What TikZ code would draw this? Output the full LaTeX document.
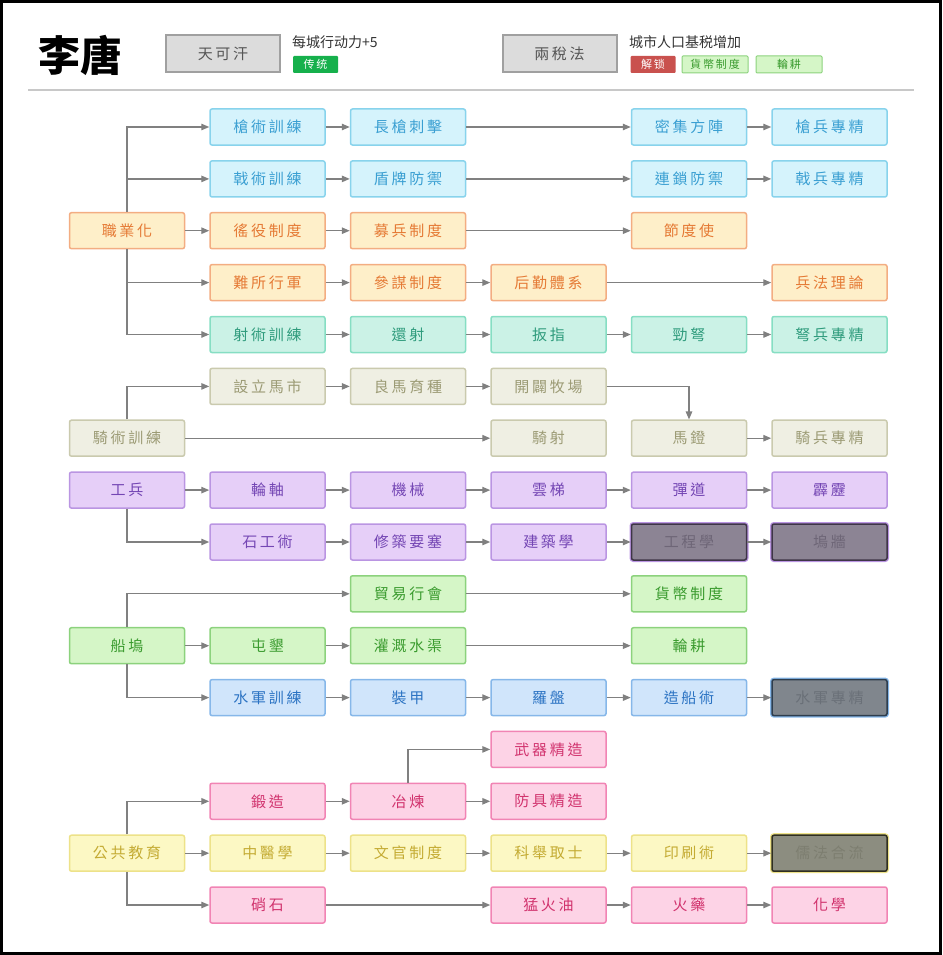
\documentclass[tikz,border=0pt]{standalone}
\usepackage{fontspec}
\newfontfamily\cjk[LetterSpace=18]{Noto Sans CJK TC}
\newfontfamily\cjkplain{Noto Sans CJK TC}
\usetikzlibrary{arrows.meta}
\usetikzlibrary{positioning}

\definecolor{linkgray}{HTML}{808080}
\definecolor{sepgray}{HTML}{C8C8C8}
\definecolor{headfill}{HTML}{DCDCDC}
\definecolor{headline}{HTML}{A0A0A0}
\definecolor{headtext}{HTML}{555555}
\definecolor{notetext}{HTML}{333333}
\definecolor{tradgreen}{HTML}{16B04C}
\definecolor{unlockred}{HTML}{C9514E}
\definecolor{lancefill}{HTML}{D5F3FC}
\definecolor{lanceline}{HTML}{88D3EC}
\definecolor{lancetext}{HTML}{3A9FD2}
\definecolor{orderfill}{HTML}{FEEFC9}
\definecolor{orderline}{HTML}{F3AD82}
\definecolor{ordertext}{HTML}{E57A35}
\definecolor{bowfill}{HTML}{CBF2E6}
\definecolor{bowline}{HTML}{86DEC3}
\definecolor{bowtext}{HTML}{2E9B7C}
\definecolor{horsefill}{HTML}{EFEFE3}
\definecolor{horseline}{HTML}{CACAAE}
\definecolor{horsetext}{HTML}{9C9B75}
\definecolor{siegefill}{HTML}{E6CFF8}
\definecolor{siegeline}{HTML}{BA95E2}
\definecolor{siegetext}{HTML}{7446B4}
\definecolor{siegelockfill}{HTML}{8C8494}
\definecolor{siegelockline}{HTML}{3E3547}
\definecolor{siegelocktext}{HTML}{6E6677}
\definecolor{farmfill}{HTML}{D5F6C7}
\definecolor{farmline}{HTML}{8CD27D}
\definecolor{farmtext}{HTML}{3A9B2E}
\definecolor{navyfill}{HTML}{D0E5FB}
\definecolor{navyline}{HTML}{86B7E9}
\definecolor{navytext}{HTML}{2B73C3}
\definecolor{navylockfill}{HTML}{80868D}
\definecolor{navylockline}{HTML}{2E3D4D}
\definecolor{navylocktext}{HTML}{6A7078}
\definecolor{forgefill}{HTML}{FDD3E6}
\definecolor{forgeline}{HTML}{F184B4}
\definecolor{forgetext}{HTML}{D1326D}
\definecolor{letterfill}{HTML}{FCF8C4}
\definecolor{letterline}{HTML}{EDE289}
\definecolor{lettertext}{HTML}{C4AB33}
\definecolor{letterlockfill}{HTML}{8C8D80}
\definecolor{letterlockline}{HTML}{2F2F22}
\definecolor{letterlocktext}{HTML}{7D7E70}

\tikzset{
  box/.style={rectangle, rounded corners=2pt, minimum width=115pt, minimum height=36pt,
    inner sep=0pt, line width=1.5pt, font=\cjk\fontsize{15}{17}\selectfont},
  lancebox/.style={box, fill=lancefill, draw=lanceline, text=lancetext},
  orderbox/.style={box, fill=orderfill, draw=orderline, text=ordertext},
  bowbox/.style={box, fill=bowfill, draw=bowline, text=bowtext},
  horsebox/.style={box, fill=horsefill, draw=horseline, text=horsetext},
  siegebox/.style={box, fill=siegefill, draw=siegeline, text=siegetext},
  siegelock/.style={box, fill=siegelockfill, draw=siegelockline, text=siegelocktext,
    preaction={draw=siegeline, line width=4pt}},
  farmbox/.style={box, fill=farmfill, draw=farmline, text=farmtext},
  navybox/.style={box, fill=navyfill, draw=navyline, text=navytext},
  navylock/.style={box, fill=navylockfill, draw=navylockline, text=navylocktext,
    preaction={draw=navyline, line width=4pt}},
  forgebox/.style={box, fill=forgefill, draw=forgeline, text=forgetext},
  letterbox/.style={box, fill=letterfill, draw=letterline, text=lettertext},
  letterlock/.style={box, fill=letterlockfill, draw=letterlockline, text=letterlocktext,
    preaction={draw=letterline, line width=4pt}},
  headbox/.style={rectangle, minimum width=114pt, minimum height=37pt, inner sep=0pt,
    fill=headfill, draw=headline, line width=2pt, text=headtext,
    font=\cjk\fontsize{15}{17}\selectfont},
  badge/.style={rectangle, rounded corners=1pt, minimum width=45pt, minimum height=17pt,
    inner sep=0pt, font=\cjk\fontsize{11}{12}\selectfont},
  note/.style={anchor=west, inner sep=0pt, text=notetext, font=\cjkplain\fontsize{14}{16}\selectfont},
  link/.style={draw=linkgray, line width=1.3pt, ->}
}

\begin{document}
\begin{tikzpicture}[x=1pt, y=-1pt, >={Triangle[length=8pt,width=6.5pt]},
    every edge/.style={link}, node distance=24pt]
        \useasboundingbox (0,0) rectangle (942,955);
        \draw[line width=3pt] (1.5,1.5) rectangle (940.5,953.5);

        % header
        \node (title) at (80,55) {\cjkplain\bfseries\fontsize{42}{46}\selectfont 李唐};
        \node[headbox] (khan) at (223,53.5) {天可汗};
        \node[note] (khannote) at (292,42) {每城行动力+5};
        \node[badge, fill=tradgreen, text=white] (trad) at (315.5,64.5) {传统};
        \node[headbox] (tax) at (559.5,53.5) {兩稅法};
        \node[note] (taxnote) at (629,42) {城市人口基税增加};
        \node[badge, fill=unlockred, text=white] (unlock) at (653,64.5) {解锁};
        \node[badge, minimum width=66pt, fill=farmfill, draw=farmline, line width=1pt, text=farmtext] (coin) at (715,64.5) {貨幣制度};
        \node[badge, minimum width=66pt, fill=farmfill, draw=farmline, line width=1pt, text=farmtext] (rot) at (789,64.5) {輪耕};
        \draw[sepgray, line width=1.5pt] (28,90) -- (914,90);

        % 職業化
        \node[lancebox] (a1) at (267.5,127)         {槍術訓練};
        \node[lancebox] (a2) [right = of a1]         {長槍刺擊};
        \node[lancebox] (a4) [right = 164.5pt of a2] {密集方陣};
        \node[lancebox] (a5) [right = of a4]         {槍兵專精};

        \node[lancebox] (b1) at (267.5,178.9)       {戟術訓練};
        \node[lancebox] (b2) [right = of b1]         {盾牌防禦};
        \node[lancebox] (b4) [right = 164.5pt of b2] {連鎖防禦};
        \node[lancebox] (b5) [right = of b4]         {戟兵專精};

        \node[orderbox] (c0) at (127,230.7)         {職業化};
        \node[orderbox] (c1) [right = of c0]         {徭役制度};
        \node[orderbox] (c2) [right = of c1]         {募兵制度};
        \node[orderbox] (c4) [right = 164.5pt of c2] {節度使};

        \node[orderbox] (d1) at (267.5,282.6)       {難所行軍};
        \node[orderbox] (d2) [right = of d1]         {參謀制度};
        \node[orderbox] (d3) [right = of d2]         {后勤體系};
        \node[orderbox] (d5) [right = 164.5pt of d3] {兵法理論};

        \node[bowbox] (e1) at (267.5,334.5)         {射術訓練};
        \node[bowbox] (e2) [right = of e1]           {還射};
        \node[bowbox] (e3) [right = of e2]           {扳指};
        \node[bowbox] (e4) [right = of e3]           {勁弩};
        \node[bowbox] (e5) [right = of e4]           {弩兵專精};

        % 騎術訓練
        \node[horsebox] (f1) at (267.5,386.4)       {設立馬市};
        \node[horsebox] (f2) [right = of f1]         {良馬育種};
        \node[horsebox] (f3) [right = of f2]         {開闢牧場};

        \node[horsebox] (g0) at (127,438.2)         {騎術訓練};
        \node[horsebox] (g3) [right = 305pt of g0]   {騎射};
        \node[horsebox] (g4) [right = of g3]         {馬鐙};
        \node[horsebox] (g5) [right = of g4]         {騎兵專精};

        % 工兵
        \node[siegebox] (h0) at (127,490.1)         {工兵};
        \node[siegebox] (h1) [right = of h0]         {輪軸};
        \node[siegebox] (h2) [right = of h1]         {機械};
        \node[siegebox] (h3) [right = of h2]         {雲梯};
        \node[siegebox] (h4) [right = of h3]         {彈道};
        \node[siegebox] (h5) [right = of h4]         {霹靂};

        \node[siegebox] (i1) at (267.5,542)         {石工術};
        \node[siegebox] (i2) [right = of i1]         {修築要塞};
        \node[siegebox] (i3) [right = of i2]         {建築學};
        \node[siegelock] (i4) [right = of i3]        {工程學};
        \node[siegelock] (i5) [right = of i4]        {塢牆};

        % 船塢
        \node[farmbox] (j2) at (408,593.8)          {貿易行會};
        \node[farmbox] (j4) [right = 164.5pt of j2]  {貨幣制度};

        \node[farmbox] (k0) at (127,645.7)          {船塢};
        \node[farmbox] (k1) [right = of k0]          {屯墾};
        \node[farmbox] (k2) [right = of k1]          {灌溉水渠};
        \node[farmbox] (k4) [right = 164.5pt of k2]  {輪耕};

        \node[navybox] (l1) at (267.5,697.6)        {水軍訓練};
        \node[navybox] (l2) [right = of l1]          {裝甲};
        \node[navybox] (l3) [right = of l2]          {羅盤};
        \node[navybox] (l4) [right = of l3]          {造船術};
        \node[navylock] (l5) [right = of l4]         {水軍專精};

        % 公共教育
        \node[forgebox] (m3) at (548.5,749.4)       {武器精造};

        \node[forgebox] (n1) at (267.5,801.3)       {鍛造};
        \node[forgebox] (n2) [right = of n1]         {冶煉};
        \node[forgebox] (n3) [right = of n2]         {防具精造};

        \node[letterbox] (o0) at (127,853.2)        {公共教育};
        \node[letterbox] (o1) [right = of o0]        {中醫學};
        \node[letterbox] (o2) [right = of o1]        {文官制度};
        \node[letterbox] (o3) [right = of o2]        {科舉取士};
        \node[letterbox] (o4) [right = of o3]        {印刷術};
        \node[letterlock] (o5) [right = of o4]       {儒法合流};

        \node[forgebox] (p1) at (267.5,905)         {硝石};
        \node[forgebox] (p3) [right = 164.5pt of p1] {猛火油};
        \node[forgebox] (p4) [right = of p3]         {火藥};
        \node[forgebox] (p5) [right = of p4]         {化學};

        \path[->]
          (a1) edge (a2) (a2) edge (a4) (a4) edge (a5)
          (b1) edge (b2) (b2) edge (b4) (b4) edge (b5)
          (c0) edge (c1) (c1) edge (c2) (c2) edge (c4)
          (d1) edge (d2) (d2) edge (d3) (d3) edge (d5)
          (e1) edge (e2) (e2) edge (e3) (e3) edge (e4) (e4) edge (e5)
          (f1) edge (f2) (f2) edge (f3)
          (g0) edge (g3) (g4) edge (g5)
          (h0) edge (h1) (h1) edge (h2) (h2) edge (h3) (h3) edge (h4) (h4) edge (h5)
          (i1) edge (i2) (i2) edge (i3) (i3) edge (i4) (i4) edge (i5)
          (j2) edge (j4)
          (k0) edge (k1) (k1) edge (k2) (k2) edge (k4)
          (l1) edge (l2) (l2) edge (l3) (l3) edge (l4) (l4) edge (l5)
          (n1) edge (n2) (n2) edge (n3)
          (o0) edge (o1) (o1) edge (o2) (o2) edge (o3) (o3) edge (o4) (o4) edge (o5)
          (p1) edge (p3) (p3) edge (p4) (p4) edge (p5)
          ;

        % branches
        \draw[link] (c0) |- (a1);
        \draw[link] (c0) |- (b1);
        \draw[link] (c0) |- (d1);
        \draw[link] (c0) |- (e1);
        \draw[link] (g0) |- (f1);
        \draw[link] (f3) -| (g4);
        \draw[link] (h0) |- (i1);
        \draw[link] (k0) |- (j2);
        \draw[link] (k0) |- (l1);
        \draw[link] (n2) |- (m3);
        \draw[link] (o0) |- (n1);
        \draw[link] (o0) |- (p1);
\end{tikzpicture}
\end{document}
